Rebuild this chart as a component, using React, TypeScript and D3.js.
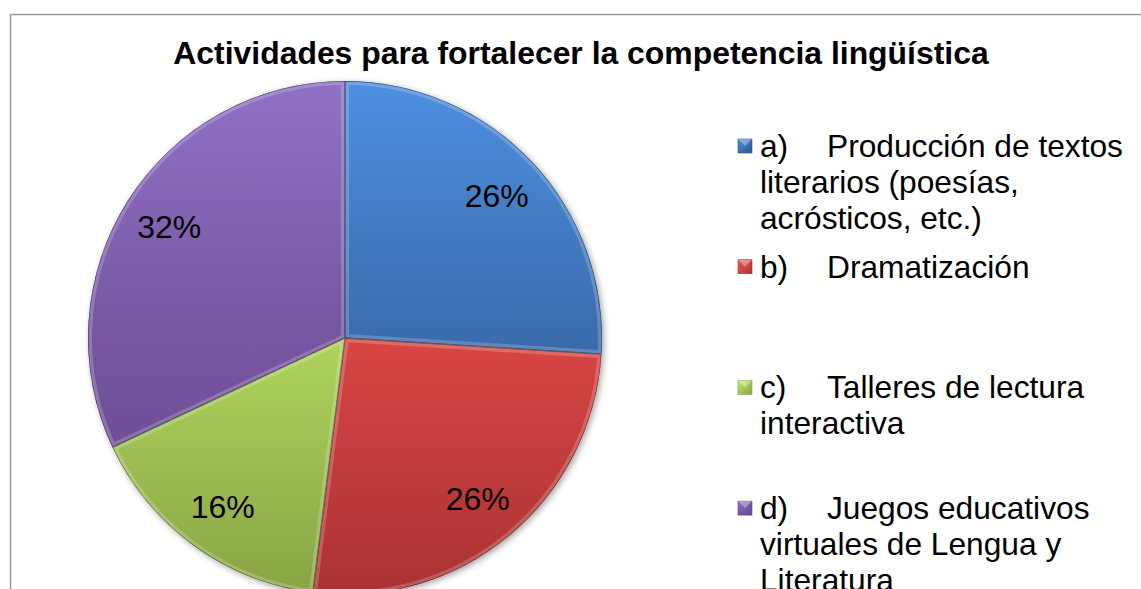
import React from 'react';
import * as d3 from 'd3';

// Values and labels.
const letters = ['a)', 'b)', 'c)', 'd)'];
const legendLines = [
  ['Producción de textos', 'literarios (poesías,', 'acrósticos, etc.)'],
  ['Dramatización'],
  ['Talleres de lectura', 'interactiva'],
  ['Juegos educativos', 'virtuales de Lengua y', 'Literatura'],
];
const percents = [26, 26, 16, 32];
const title = 'Actividades para fortalecer la competencia lingüística';

// top / middle / bottom shades of each slice (Office bevel look)
const shades = [
  ['#4e8fe0', '#3a6cad', '#2c528c'],
  ['#ef5a55', '#d84544', '#a93232'],
  ['#c4ea6c', '#b0d45e', '#88a444'],
  ['#9071c6', '#7656a0', '#62458a'],
];

const W = 1141;
const H = 589;
const cx = 345;
const cy = 338;
const r = 257;
const font = '"Liberation Sans", Arial, sans-serif';

const App = () => {
  const pie = d3.pie<number>().value(d => d).sort(null);
  const slices = pie(percents);
  const arc = d3.arc<d3.PieArcDatum<number>>().innerRadius(0).outerRadius(r);
  const labelArc = d3.arc<d3.PieArcDatum<number>>().innerRadius(r * 0.81).outerRadius(r * 0.81);

  const legendX = 738;
  const legendTop = 157;
  const entryGap = 120.7;
  const lineH = 36;

  return (
    <svg width={W} height={H} style={{ position: 'absolute', left: 0, top: 0, display: 'block' }}>
      <defs>
        {shades.map((s, i) => (
          <linearGradient key={i} id={`g${i}`} gradientUnits="userSpaceOnUse" x1={0} y1={-r} x2={0} y2={r}>
            <stop offset="0" stopColor={s[0]} />
            <stop offset="0.5" stopColor={s[1]} />
            <stop offset="1" stopColor={s[2]} />
          </linearGradient>
        ))}
        {shades.map((s, i) => (
          <linearGradient key={`l${i}`} id={`lg${i}`} x1="0" y1="0" x2="1" y2="1">
            <stop offset="0" stopColor={s[0]} />
            <stop offset="1" stopColor={s[2]} />
          </linearGradient>
        ))}
        {slices.map((d, i) => (
          <clipPath key={i} id={`c${i}`}>
            <path d={arc(d) || ''} />
          </clipPath>
        ))}
        <filter id="shadow" x="-10%" y="-10%" width="120%" height="120%">
          <feDropShadow dx="2" dy="2" stdDeviation="3" floodColor="#000" floodOpacity="0.35" />
        </filter>
      </defs>

      <rect x={10.5} y={14.5} width={1400} height={800} fill="#fff" stroke="#9a9a9a" strokeWidth={1.5} />

      <text x={581} y={64} textAnchor="middle" fontFamily={font} fontWeight="bold" fontSize={31.9} fill="#000">
        {title}
      </text>

      <g transform={`translate(${cx},${cy})`}>
        <g filter="url(#shadow)">
          {slices.map((d, i) => (
            <path key={i} d={arc(d) || ''} fill={`url(#g${i})`} />
          ))}
        </g>
        {slices.map((d, i) => (
          <g key={`b${i}`} clipPath={`url(#c${i})`}>
            <path d={arc(d) || ''} fill="none" stroke="#fff" strokeOpacity={0.2} strokeWidth={8} />
            <path d={arc(d) || ''} fill="none" stroke="#000" strokeOpacity={0.45} strokeWidth={1.4} />
          </g>
        ))}
        {slices.map((d, i) => {
          const [lx, ly] = labelArc.centroid(d);
          return (
            <text key={`t${i}`} x={lx} y={ly} dy="0.36em" textAnchor="middle"
              fontFamily={font} fontSize={32} fill="#000">
              {`${d.data}%`}
            </text>
          );
        })}
      </g>

      {letters.map((l, i) => {
        const y0 = legendTop + i * entryGap;
        return (
          <g key={`lg${i}`}>
            <rect x={legendX} y={y0 - 18} width={14} height={14} fill={`url(#lg${i})`}
              stroke={shades[i][2]} strokeWidth={0.6} />
            <path d={`M${legendX},${y0 - 18}L${legendX + 7},${y0 - 11}L${legendX + 14},${y0 - 18}Z`}
              fill="#fff" fillOpacity={0.35} />
            {legendLines[i].map((t, j) => (
              <text key={j} y={y0 + j * lineH} fontFamily={font} fontSize={31.7} fill="#000">
                {j === 0 ? (
                  <>
                    <tspan x={760}>{l}</tspan>
                    <tspan x={827}>{t}</tspan>
                  </>
                ) : (
                  <tspan x={760}>{t}</tspan>
                )}
              </text>
            ))}
          </g>
        );
      })}
    </svg>
  );
};

export default App;
